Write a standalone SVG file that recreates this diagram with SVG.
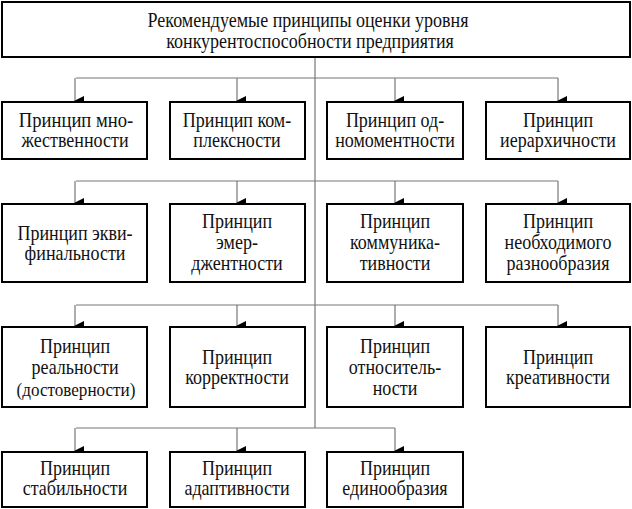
<svg xmlns="http://www.w3.org/2000/svg" width="632" height="509" viewBox="0 0 632 509">
<style>
.box{fill:#fff;stroke:#000;stroke-width:2}
.t{font-family:'Liberation Serif','DejaVu Serif','Times New Roman',serif;font-size:20px;fill:#111;text-anchor:middle}
.c{fill:none;stroke:#777;stroke-width:1.2}
</style>
<defs>
<marker id="ah" markerWidth="10" markerHeight="10" refX="5" refY="9" orient="auto" markerUnits="userSpaceOnUse" viewBox="0 0 10 10">
<path d="M0,0 L10,0 L5,10 Z" fill="#000"/>
</marker>
</defs>
<rect width="632" height="509" fill="#fff"/>
<g id="connectors">
<path class="c" d="M315,57 V428"/>
<path class="c" d="M76,78 H558"/>
<path class="c" d="M76,181 H558"/>
<path class="c" d="M76,305 H558"/>
<path class="c" d="M76,428 H395"/>
<path class="c" d="M75,78 V101" marker-end="url(#ah)"/>
<path class="c" d="M237,78 V101" marker-end="url(#ah)"/>
<path class="c" d="M395,78 V101" marker-end="url(#ah)"/>
<path class="c" d="M558,78 V101" marker-end="url(#ah)"/>
<path class="c" d="M75,181 V203" marker-end="url(#ah)"/>
<path class="c" d="M237,181 V203" marker-end="url(#ah)"/>
<path class="c" d="M395,181 V203" marker-end="url(#ah)"/>
<path class="c" d="M558,181 V203" marker-end="url(#ah)"/>
<path class="c" d="M75,305 V326" marker-end="url(#ah)"/>
<path class="c" d="M237,305 V326" marker-end="url(#ah)"/>
<path class="c" d="M395,305 V326" marker-end="url(#ah)"/>
<path class="c" d="M558,305 V326" marker-end="url(#ah)"/>
<path class="c" d="M75,428 V451" marker-end="url(#ah)"/>
<path class="c" d="M237,428 V451" marker-end="url(#ah)"/>
<path class="c" d="M395,428 V451" marker-end="url(#ah)"/>
</g>
<g id="root">
<rect class="box" x="2" y="2" width="628" height="55"/>
<text class="t" transform="translate(308,27) scale(0.9,1)">Рекомендуемые принципы оценки уровня</text>
<text class="t" transform="translate(310,48) scale(0.9,1)">конкурентоспособности предприятия</text>
</g>
<g id="n1"><rect class="box" x="2" y="102" width="145" height="57"/>
<text class="t" transform="translate(76,127) scale(0.93,1)">Принцип мно-</text><text class="t" transform="translate(75,147) scale(0.9,1)">жественности</text></g>
<g id="n2"><rect class="box" x="170" y="102" width="135" height="57"/>
<text class="t" transform="translate(237,127) scale(0.9,1)">Принцип ком-</text><text class="t" transform="translate(237,147) scale(0.9,1)">плексности</text></g>
<g id="n3"><rect class="box" x="327" y="102" width="136" height="57"/>
<text class="t" transform="translate(395,127) scale(0.9,1)">Принцип од-</text><text class="t" transform="translate(395,147) scale(0.9,1)">номоментности</text></g>
<g id="n4"><rect class="box" x="486" y="102" width="144" height="57"/>
<text class="t" transform="translate(558,127) scale(0.9,1)">Принцип</text><text class="t" transform="translate(558,147) scale(0.9,1)">иерархичности</text></g>

<g id="n5"><rect class="box" x="2" y="204" width="145" height="78"/>
<text class="t" transform="translate(75,240) scale(0.9,1)">Принцип экви-</text><text class="t" transform="translate(75,260) scale(0.9,1)">финальности</text></g>
<g id="n6"><rect class="box" x="170" y="204" width="135" height="78"/>
<text class="t" transform="translate(237,228) scale(0.9,1)">Принцип</text><text class="t" transform="translate(237,249) scale(0.9,1)">эмер-</text><text class="t" transform="translate(237,270) scale(0.9,1)">джентности</text></g>
<g id="n7"><rect class="box" x="327" y="204" width="136" height="78"/>
<text class="t" transform="translate(395,228) scale(0.9,1)">Принцип</text><text class="t" transform="translate(395,249) scale(0.9,1)">коммуника-</text><text class="t" transform="translate(395,270) scale(0.9,1)">тивности</text></g>
<g id="n8"><rect class="box" x="486" y="204" width="144" height="78"/>
<text class="t" transform="translate(558,228) scale(0.9,1)">Принцип</text><text class="t" transform="translate(558,249) scale(0.9,1)">необходимого</text><text class="t" transform="translate(558,270) scale(0.9,1)">разнообразия</text></g>

<g id="n9"><rect class="box" x="2" y="327" width="145" height="80"/>
<text class="t" transform="translate(75,353) scale(0.9,1)">Принцип</text><text class="t" transform="translate(75,374) scale(0.9,1)">реальности</text><text class="t" style="font-size:19px" transform="translate(76,396) scale(0.9,1)">(достоверности)</text></g>
<g id="n10"><rect class="box" x="170" y="327" width="135" height="80"/>
<text class="t" transform="translate(237,364) scale(0.9,1)">Принцип</text><text class="t" transform="translate(237,384) scale(0.9,1)">корректности</text></g>
<g id="n11"><rect class="box" x="327" y="327" width="136" height="80"/>
<text class="t" transform="translate(395,353) scale(0.9,1)">Принцип</text><text class="t" transform="translate(395,374) scale(0.9,1)">относитель-</text><text class="t" transform="translate(395,395) scale(0.9,1)">ности</text></g>
<g id="n12"><rect class="box" x="486" y="327" width="144" height="80"/>
<text class="t" transform="translate(558,364) scale(0.9,1)">Принцип</text><text class="t" transform="translate(558,384) scale(0.9,1)">креативности</text></g>

<g id="n13"><rect class="box" x="2" y="452" width="145" height="55"/>
<text class="t" transform="translate(75,475) scale(0.9,1)">Принцип</text><text class="t" transform="translate(75,495) scale(0.9,1)">стабильности</text></g>
<g id="n14"><rect class="box" x="170" y="452" width="135" height="55"/>
<text class="t" transform="translate(237,475) scale(0.9,1)">Принцип</text><text class="t" transform="translate(237,495) scale(0.9,1)">адаптивности</text></g>
<g id="n15"><rect class="box" x="327" y="452" width="136" height="55"/>
<text class="t" transform="translate(395,475) scale(0.9,1)">Принцип</text><text class="t" transform="translate(395,495) scale(0.9,1)">единообразия</text></g>
</svg>
